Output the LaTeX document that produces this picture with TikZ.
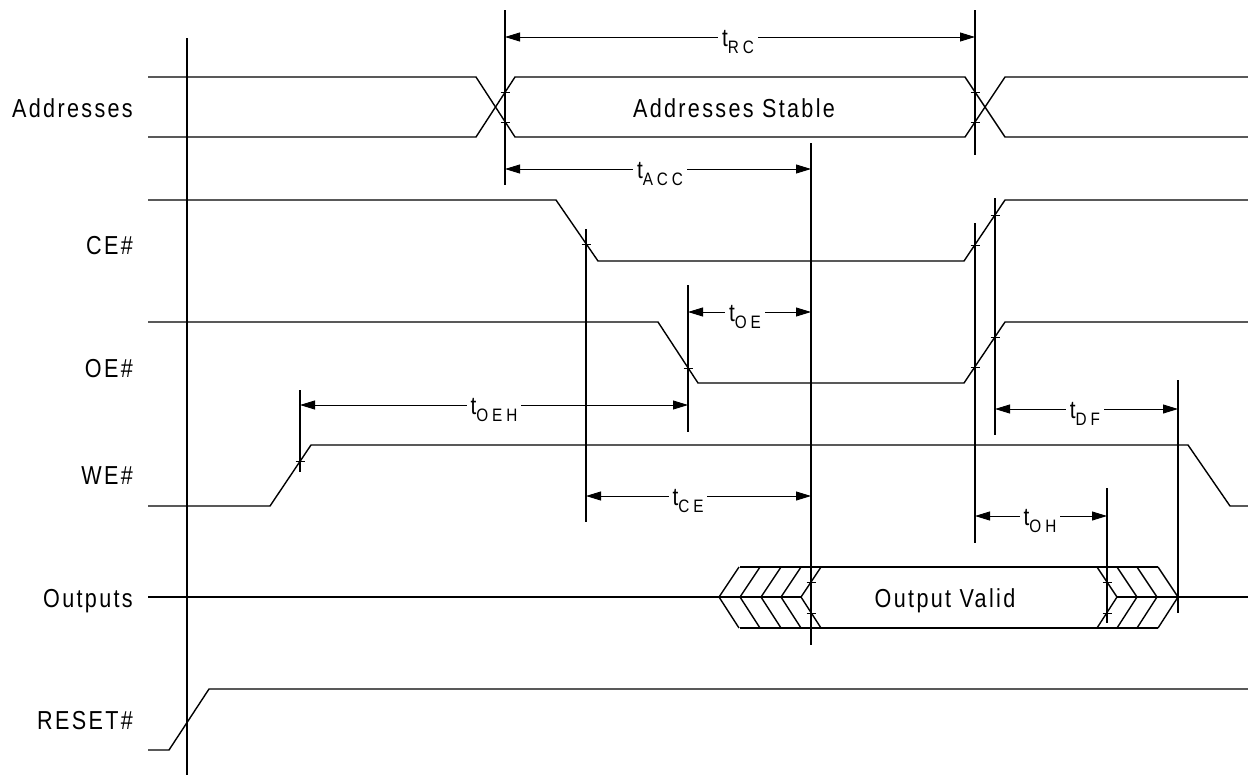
\documentclass[tikz,border=0pt]{standalone}
\usepackage{fontspec}
\setmainfont{Liberation Sans}[FakeStretch=0.83,LetterSpace=9]
\newfontfamily\subf{Liberation Sans}[FakeStretch=0.85,LetterSpace=22]
\usetikzlibrary{arrows.meta}
\newcommand{\tlab}[1]{{\fontsize{25}{25}\selectfont t}\raisebox{-7pt}{\subf\fontsize{18}{18}\selectfont #1}}
\begin{document}
\begin{tikzpicture}[x=1pt,y=-1pt,
  sig/.style={line width=1.4pt, line join=miter},
  refl/.style={line width=1.2pt},
  dim/.style={line width=0.9pt, {Triangle[length=15pt,width=9pt]}-{Triangle[length=15pt,width=9pt]}},
  tickm/.style={line width=0.9pt},
  lbl/.style={anchor=base east, font=\fontsize{26}{30}\selectfont, inner sep=0pt},
  tl/.style={fill=white, inner sep=4pt, anchor=base},
  txt/.style={anchor=base, font=\fontsize{26}{30}\selectfont, inner sep=0pt}]
\useasboundingbox (0,0) rectangle (1248,780);

% signal names
\node[lbl] (nAddr) at (133,117) {Addresses};
\node[lbl] (nCE) at (133,254) {CE\#};
\node[lbl] (nOE) at (133,377) {OE\#};
\node[lbl] (nWE) at (133,484) {WE\#};
\node[lbl] (nOut) at (133,607) {Outputs};
\node[lbl] (nRst) at (133,729) {RESET\#};

% reference vertical lines
\coordinate (vA1) at (505,10);   \coordinate (vA2) at (505,185);
\coordinate (vB1) at (975,10);   \coordinate (vB2) at (975,155);
\draw[refl] (187,38) -- (187,775);
\draw[refl] (vA1) -- (vA2);
\draw[refl] (vB1) -- (vB2);
\draw[refl] (811,143) -- (811,645);
\draw[refl] (586,229) -- (586,522);
\draw[refl] (688,285) -- (688,432);
\draw[refl] (300,390) -- (300,472);
\draw[refl] (975,223) -- (975,543);
\draw[refl] (995,198) -- (995,435);
\draw[refl] (1178,380) -- (1178,613);
\draw[refl] (1107,488) -- (1107,623);

% dimension arrows
\coordinate (rcL) at (505,37);  \coordinate (rcR) at (975,37);
\coordinate (acL) at (505,169); \coordinate (acR) at (811,169);
\coordinate (oeL) at (688,312); \coordinate (oeR) at (811,312);
\coordinate (ohL) at (300,405); \coordinate (ohR) at (688,405);
\coordinate (dfL) at (995,409); \coordinate (dfR) at (1178,409);
\coordinate (ceL) at (586,496); \coordinate (ceR) at (811,496);
\coordinate (toL) at (975,516); \coordinate (toR) at (1107,516);
\draw[dim] (rcL) -- (rcR);
\draw[dim] (acL) -- (acR);
\draw[dim] (oeL) -- (oeR);
\draw[dim] (ohL) -- (ohR);
\draw[dim] (dfL) -- (dfR);
\draw[dim] (ceL) -- (ceR);
\draw[dim] (toL) -- (toR);
\node[tl] (lRC) at (738,46) {\tlab{RC}};
\node[tl] (lACC) at (660,178) {\tlab{ACC}};
\node[tl] (lOE) at (745,321) {\tlab{OE}};
\node[tl] (lOEH) at (494,414) {\tlab{OEH}};
\node[tl] (lDF) at (1085,418) {\tlab{DF}};
\node[tl] (lCE) at (688,505) {\tlab{CE}};
\node[tl] (lOH) at (1040,525) {\tlab{OH}};

% Addresses
\draw[sig] (148,77) -- (476,77) -- (515,137) -- (965,137) -- (1005,77) -- (1248,77);
\draw[sig] (148,137) -- (476,137) -- (515,77) -- (965,77) -- (1005,137) -- (1248,137);
\node[txt] (tStable) at (734,117) {Addresses Stable};

% CE#, OE#, WE#, RESET#
\draw[sig] (148,200) -- (556,200) -- (598,261) -- (964,261) -- (1005,200) -- (1248,200);
\draw[sig] (148,322) -- (658,322) -- (698,383) -- (964,383) -- (1005,322) -- (1248,322);
\draw[sig] (148,506) -- (270,506) -- (311,445) -- (1188,445) -- (1230,506) -- (1248,506);
\draw[sig] (148,750) -- (169,750) -- (209,689) -- (1248,689);

% Outputs
\draw[sig] (148,597) -- (801,597);
\draw[sig] (1117,597) -- (1248,597);
\draw[sig] (740,567) -- (1158,567);
\draw[sig] (740,628) -- (1158,628);
\foreach \x in {719,740,761,781,801}
  \draw[sig] (\x+20,567) -- (\x,597) -- (\x+20,628);
\foreach \x in {1097,1117,1137,1158}
  \draw[sig] (\x,567) -- (\x+20,597) -- (\x,628);
\node[txt] (tValid) at (945,607) {Output Valid};

% tick marks
\foreach \p in {(505,92),(505,122),(975,92),(975,122),(586,244),(975,245),(995,215),
                (688,368),(975,367),(995,337),(300,461),(811,582),(811,613),(1107,582),(1107,613)}
  \draw[tickm] \p ++(-4.5,0) -- ++(9,0);
\end{tikzpicture}
\end{document}
